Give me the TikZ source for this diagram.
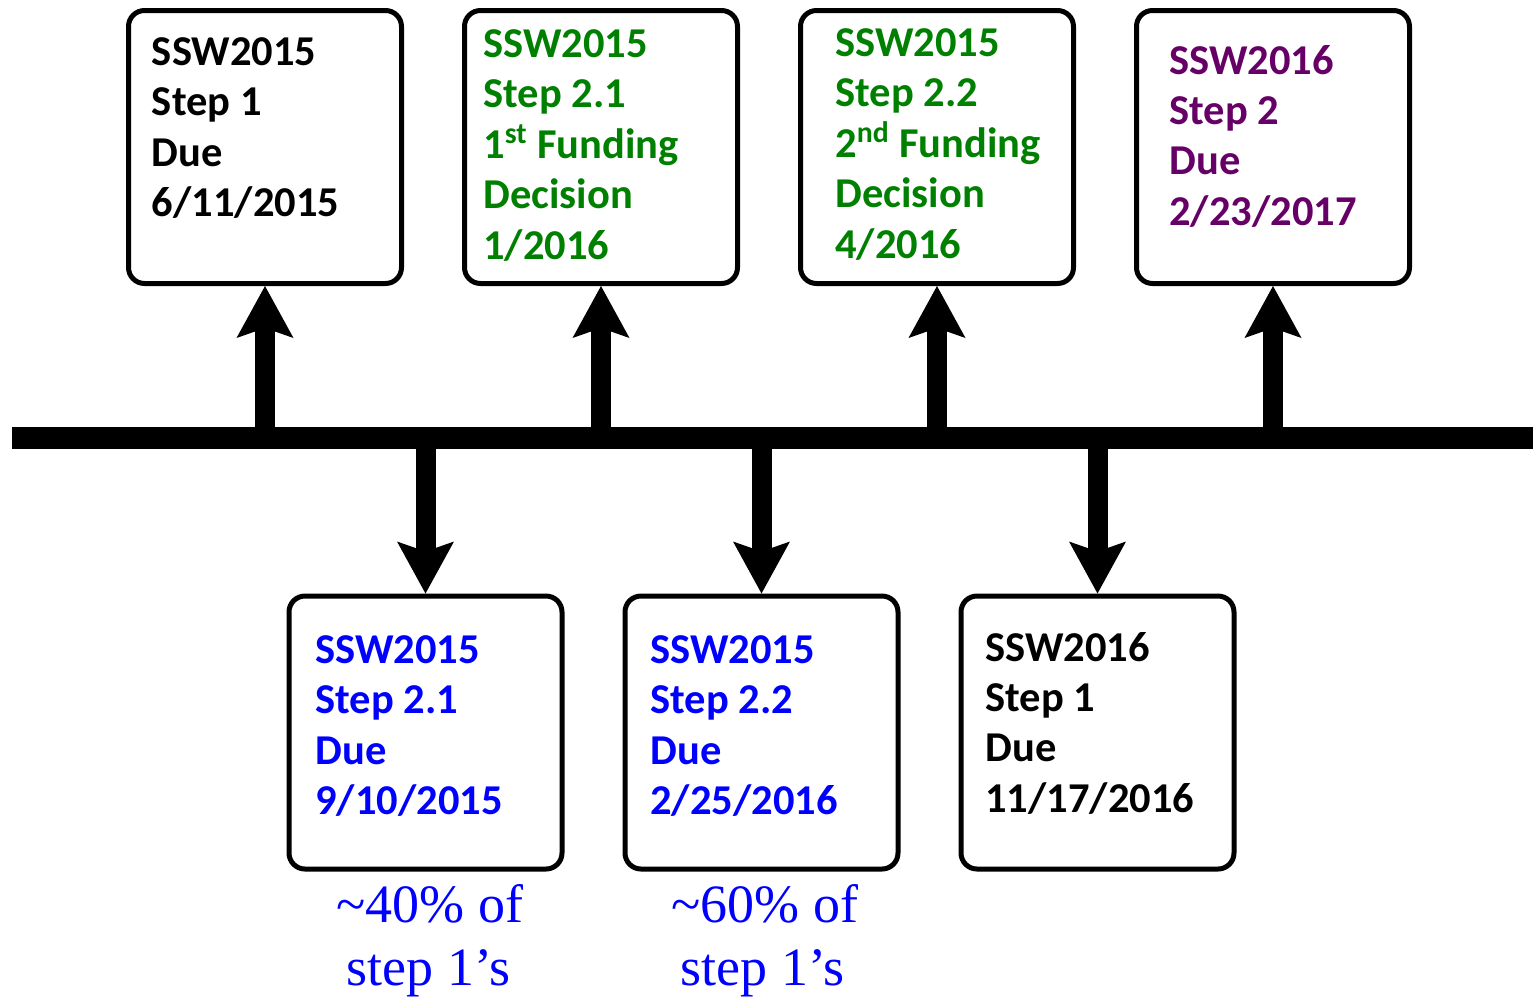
\documentclass[tikz,border=0pt]{standalone}
\usepackage{fontspec}
\setmainfont{Carlito}
\newfontfamily\tnr{Liberation Serif}
\usetikzlibrary{arrows.meta}
\definecolor{ggreen}{RGB}{0,128,0}
\definecolor{bblue}{RGB}{0,0,255}
\definecolor{ppurple}{RGB}{102,0,102}
\newcommand\boxlines[1]{\vtop{\baselineskip=25.2pt\lineskiplimit=-100pt\lineskip=0pt #1}}
\begin{document}
\begin{tikzpicture}[x=0.5pt,y=-0.5pt,
  box/.style={draw=black, line width=2.5pt, rounded corners=8pt, fill=white,
    minimum width=136.5pt, minimum height=136.5pt, inner sep=0pt},
  txt/.style={anchor=base west, inner sep=0pt,
    font=\fontsize{21.25}{25.2}\selectfont\bfseries},
  lbl/.style={anchor=base, inner sep=0pt, text=bblue,
    font=\tnr\fontsize{27}{31}\selectfont},
  conn/.style={line width=10pt, draw=black,
    -{Stealth[length=26pt, width=28.5pt, inset=5pt, line width=0pt]}},
  timeline/.style={line width=11pt, draw=black}]
\useasboundingbox (0,0) rectangle (1533,998);

% timeline
\coordinate (tl) at (12,438);
\coordinate (tr) at (1533,438);
\draw[timeline] (tl) -- (tr);

% top boxes
\node[box] (b1) at (265,147) {};
\node[box] (b2) at (601,147) {};
\node[box] (b3) at (937,147) {};
\node[box] (b4) at (1273,147) {};
% bottom boxes
\node[box] (c1) at (425.5,732.5) {};
\node[box] (c2) at (761.5,732.5) {};
\node[box] (c3) at (1097.5,732.5) {};

% arrows
\foreach \b in {b1,b2,b3,b4}{
  \draw[conn] (\b.south |- tl) -- (\b.south);
}
\foreach \c in {c1,c2,c3}{
  \draw[conn] (\c.north |- tl) -- (\c.north);
}

% texts
\node[txt, text=black] (t1) at (151.5,65.5) {\boxlines{\hbox{SSW2015}\hbox{Step 1}\hbox{Due}\hbox{6/11/2015}}};
\node[txt, text=ggreen] (t2) at (483,57.5) {\boxlines{\hbox{SSW2015}\hbox{Step 2.1}\hbox{1\textsuperscript{st} Funding}\hbox{Decision}\hbox{1/2016}}};
\node[txt, text=ggreen] (t3) at (835,56.5) {\boxlines{\hbox{SSW2015}\hbox{Step 2.2}\hbox{2\textsuperscript{nd} Funding}\hbox{Decision}\hbox{4/2016}}};
\node[txt, text=ppurple] (t4) at (1169,74) {\boxlines{\hbox{SSW2016}\hbox{Step 2}\hbox{Due}\hbox{2/23/2017}}};
\node[txt, text=bblue] (u1) at (315,663.5) {\boxlines{\hbox{SSW2015}\hbox{Step 2.1}\hbox{Due}\hbox{9/10/2015}}};
\node[txt, text=bblue] (u2) at (650,663.5) {\boxlines{\hbox{SSW2015}\hbox{Step 2.2}\hbox{Due}\hbox{2/25/2016}}};
\node[txt, text=black] (u3) at (985,661) {\boxlines{\hbox{SSW2016}\hbox{Step 1}\hbox{Due}\hbox{11/17/2016}}};

% bottom labels
\node[lbl] (l1a) at (430,922) {\textasciitilde40\% of};
\node[lbl] (l1b) at (428.5,985) {step 1’s};
\node[lbl] (l2a) at (765,922) {\textasciitilde60\% of};
\node[lbl] (l2b) at (762.5,985) {step 1’s};
\end{tikzpicture}
\end{document}
